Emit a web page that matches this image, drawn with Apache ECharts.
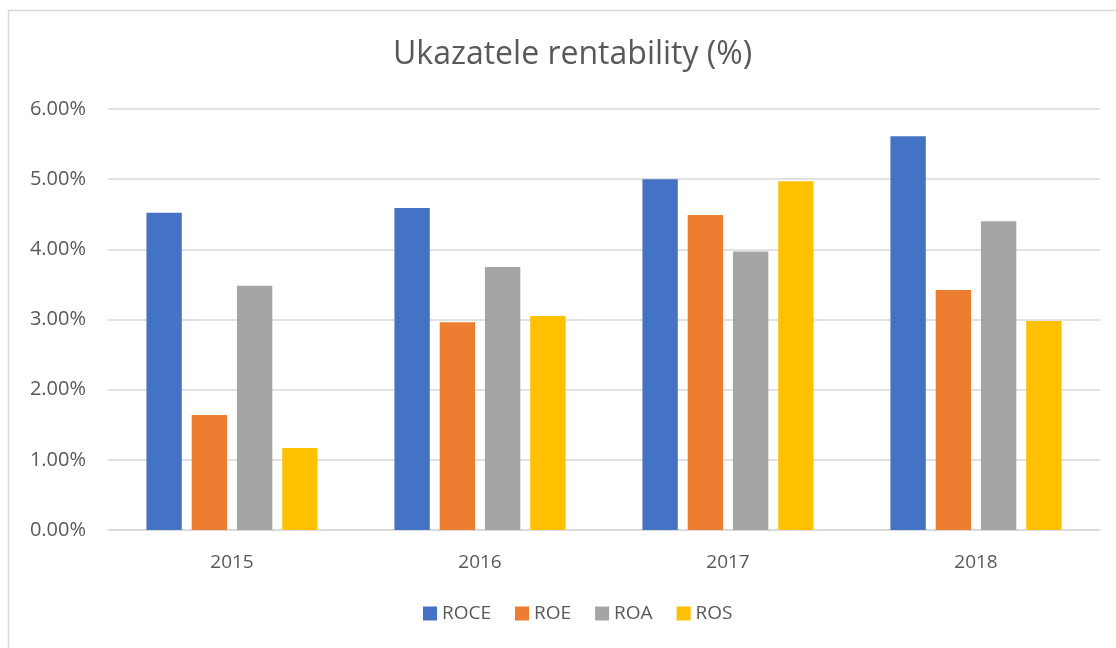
<!DOCTYPE html>
<html>
<head>
<meta charset="utf-8">
<script src="https://cdn.jsdelivr.net/npm/echarts@6/dist/echarts.min.js"></script>
<style>
  html, body { margin: 0; padding: 0; background: #fff; }
  #chart { width: 1116px; height: 648px; }
</style>
</head>
<body>
<div id="chart"></div>
<script>
// ── Data (values in %) ──────────────────────────────────────────────────────
const years = ['2015', '2016', '2017', '2018'];
const roce  = [4.52, 4.59, 5.00, 5.61];
const roe   = [1.64, 2.96, 4.49, 3.42];
const roa   = [3.48, 3.75, 3.97, 4.40];
const ros   = [1.17, 3.05, 4.97, 2.98];

const seriesNames  = ['ROCE', 'ROE', 'ROA', 'ROS'];
const seriesValues = [roce, roe, roa, ros];
const colors       = ['#4472C4', '#ED7D31', '#A5A5A5', '#FFC000'];

const font = "'Open Sans', 'Noto Sans', sans-serif";

const chart = echarts.init(document.getElementById('chart'), null, { renderer: 'canvas' });

chart.setOption({
  animation: false,
  backgroundColor: '#fff',
  color: colors,
  // the original frame is wider than the picture, so title/legend sit a bit right of centre
  title: {
    text: 'Ukazatele rentability (%)',
    left: 388,
    top: 34,
    textStyle: { fontFamily: font, fontSize: 32, fontWeight: 'normal', color: '#595959' },
  },
  graphic: [{
    type: 'rect',
    shape: { x: 8.5, y: 10.5, width: 1130, height: 660 },
    style: { fill: 'none', stroke: '#D9D9D9', lineWidth: 1.5 },
    silent: true,
  }],
  legend: {
    bottom: 20,
    left: 418,
    itemWidth: 14,
    itemHeight: 14,
    itemGap: 24,
    itemTextGap: 6,
    icon: 'rect',
    textStyle: { fontFamily: font, fontSize: 19, color: '#595959' },
    data: seriesNames,
  },
  grid: { left: 108, right: 16, top: 109, bottom: 118 },
  xAxis: {
    type: 'category',
    data: years,
    axisLine: { lineStyle: { color: '#D9D9D9', width: 1.5 } },
    axisTick: { show: false },
    axisLabel: { fontFamily: font, fontSize: 19, color: '#595959', margin: 23 },
  },
  yAxis: {
    type: 'value',
    min: 0,
    max: 6,
    interval: 1,
    axisLine: { show: false },
    axisTick: { show: false },
    axisLabel: {
      fontFamily: font, fontSize: 20, color: '#595959', margin: 22,
      formatter: v => v.toFixed(2) + '%',
    },
    splitLine: { lineStyle: { color: '#D9D9D9', width: 1.5 } },
  },
  series: seriesNames.map((name, i) => ({
    name,
    type: 'bar',
    data: seriesValues[i],
    barGap: '28%',
    barCategoryGap: '31%',
  })),
});
</script>
</body>
</html>
